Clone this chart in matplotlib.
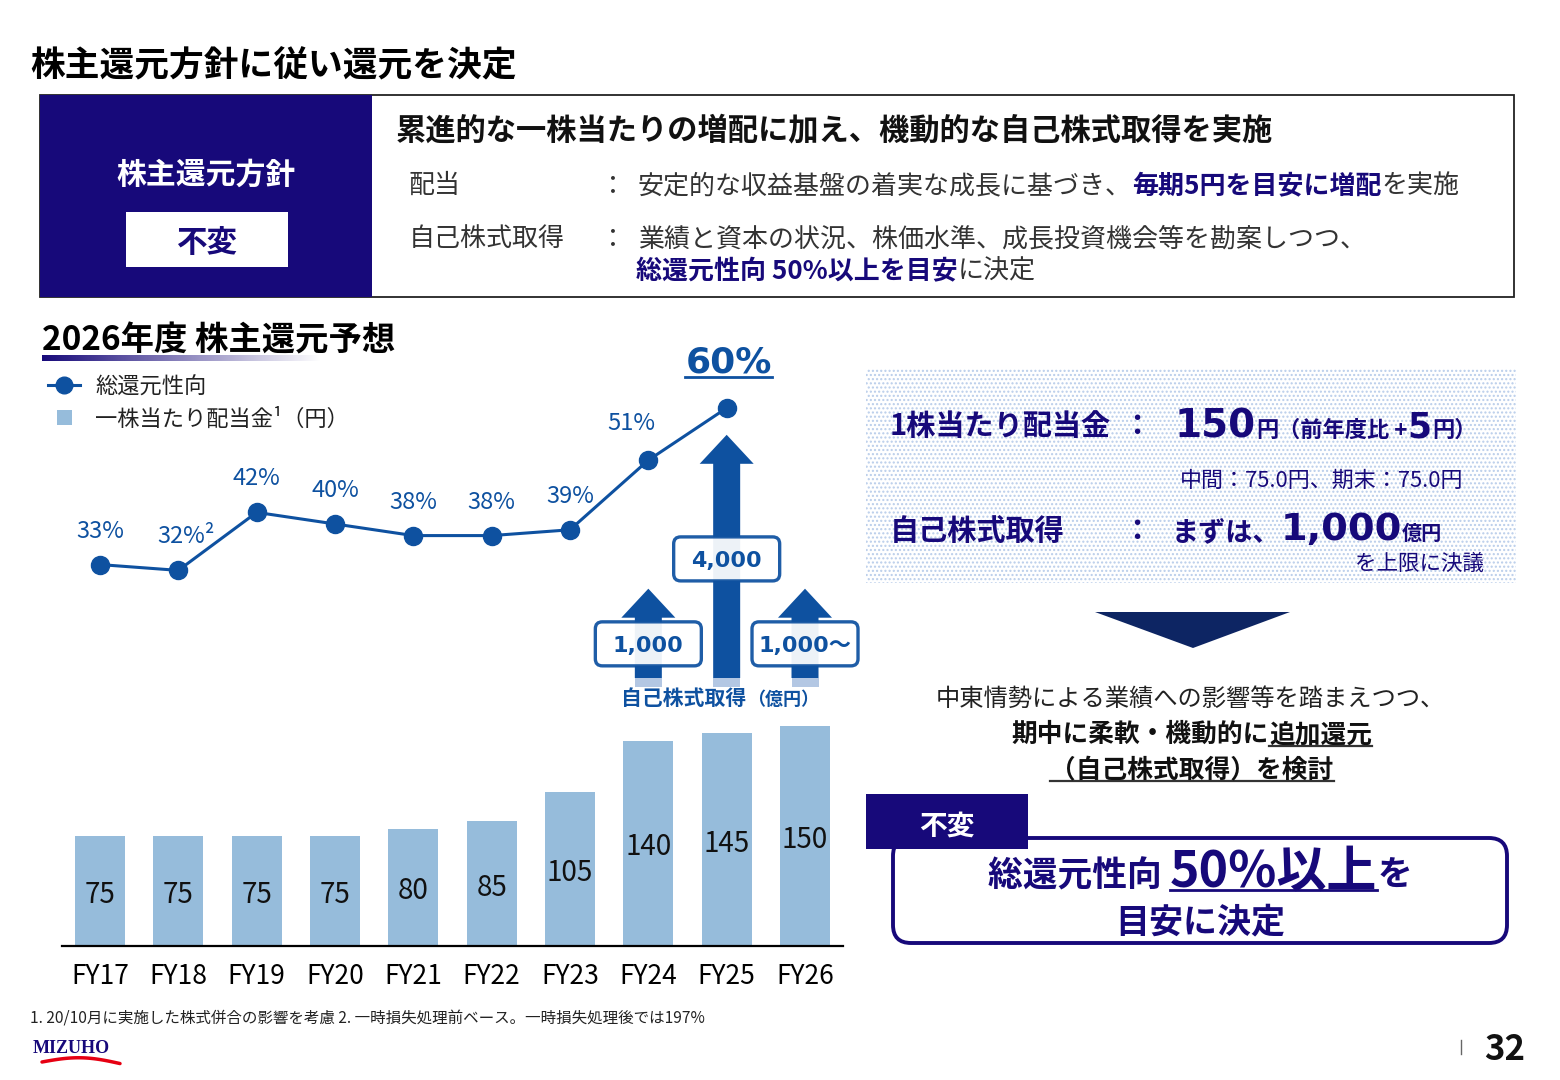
import numpy as np
import matplotlib.pyplot as plt
from matplotlib.patches import Rectangle, FancyBboxPatch, Polygon
from matplotlib.colors import to_rgb

plt.rcParams['font.family'] = ['Noto Sans CJK JP', 'DejaVu Sans']

# Data
years = ['FY17', 'FY18', 'FY19', 'FY20', 'FY21', 'FY22', 'FY23', 'FY24', 'FY25', 'FY26']
dividend = [75, 75, 75, 75, 80, 85, 105, 140, 145, 150]
payout_years = ['FY17', 'FY18', 'FY19', 'FY20', 'FY21', 'FY22', 'FY23', 'FY24', 'FY25']
payout = [33, 32, 42, 40, 38, 38, 39, 51, 60]
payout_labels = ['33%', '32%²', '42%', '40%', '38%', '38%', '39%', '51%', '60%']
buyback_years = ['FY24', 'FY25', 'FY26']
buyback = [1000, 4000, 1000]
buyback_labels = ['1,000', '4,000', '1,000～']

NAVY = '#17097a'
BLUE = '#0e51a0'
BAR = '#96bcdb'
DARK = '#333333'

fig = plt.figure(figsize=(15.6, 10.8), dpi=100)
fig.patch.set_facecolor('white')

# Bar chart (dividend per share)
ax = fig.add_axes([62 / 1560, 134 / 1080, 781 / 1560, 606 / 1080])
x = np.arange(len(years))
ax.bar(x, dividend, width=0.64, color=BAR, zorder=2)
ax.set_xlim(-0.485, 9.485)
ax.set_ylim(0, 606 / 1.467)
for s in ['top', 'right', 'left']:
    ax.spines[s].set_visible(False)
ax.spines['bottom'].set_linewidth(1.6)
ax.set_yticks([])
ax.set_xticks(x, years)
ax.tick_params(axis='x', length=0, pad=12, labelsize=19)
ax.patch.set_alpha(0)
for xi, v in zip(x, dividend):
    ax.annotate(str(v), (xi, v / 2), xytext=(0, -4), textcoords='offset pixels',
                ha='center', va='center', fontsize=20, color='#111')

# Line chart (total payout ratio)
ax2 = ax.twinx()
ax2.set_ylim(-32.76, 71.72)
ax2.axis('off')
px = [years.index(y) for y in payout_years]
ax2.plot(px, payout, color=BLUE, lw=2.2, marker='o', ms=13, zorder=3)

# Overlay in pixel coordinates for slide decorations
ov = fig.add_axes([0, 0, 1, 1], facecolor='none')
ov.set_xlim(0, 1560)
ov.set_ylim(1080, 0)
ov.axis('off')
renderer = fig.canvas.get_renderer()


def runs(x0, y, parts, ha='left'):
    objs = [ov.text(0, y, s, va='baseline', ha='left', **kw) for s, kw in parts]
    ws = [t.get_window_extent(renderer).width for t in objs]
    total = sum(ws)
    if ha == 'center':
        x0 -= total / 2
    elif ha == 'right':
        x0 -= total
    pos = []
    for t, w in zip(objs, ws):
        t.set_x(x0)
        pos.append((x0, x0 + w))
        x0 += w
    return pos


def to_ov(axis, xv, yv):
    dx, dy = axis.transData.transform((xv, yv))
    return dx, 1080 - dy


# payout labels
for i, (xi, v, lab) in enumerate(zip(px, payout, payout_labels)):
    lx, ly = to_ov(ax2, xi, v)
    if i == len(payout) - 1:
        p = runs(lx + 2, ly - 35, [(lab, dict(fontsize=26, weight='bold', color=BLUE, family='DejaVu Sans'))], ha='center')
        ov.plot([p[0][0], p[0][1]], [ly - 31, ly - 31], color=BLUE, lw=2)
    elif i == len(payout) - 2:
        ov.text(lx - 17, ly - 30, lab, fontsize=17, color=BLUE, ha='center', va='baseline')
    else:
        ov.text(lx + (8 if '²' in lab else 0), ly - 27, lab, fontsize=17, color=BLUE, ha='center', va='baseline')

# buyback arrows
for yr, v, lab in zip(buyback_years, buyback, buyback_labels):
    cx, _ = to_ov(ax, years.index(yr), 0)
    base = 687
    top = base - (47 + v * 0.0513)
    hb = top + 29
    ov.add_patch(Polygon([(cx - 27, hb), (cx, top), (cx + 27, hb), (cx + 13.5, hb), (cx + 13.5, base - 9),
                          (cx - 13.5, base - 9), (cx - 13.5, hb)], closed=True, fc=BLUE, ec='none'))
    ov.add_patch(Rectangle((cx - 13.5, base - 9), 27, 9, fc='#b3c7e3', ec='none'))
    bc = (top + base) / 2 + (6 if v < 2000 else -2)
    ov.add_patch(FancyBboxPatch((cx - 53, bc - 22), 106, 44, boxstyle='round,pad=0,rounding_size=7',
                                fc='white', ec=BLUE, lw=2.4, alpha=0.93))
    ov.text(cx, bc + 8, lab, fontsize=16, weight='bold', color=BLUE, ha='center', va='baseline',
            family=['DejaVu Sans', 'Noto Sans CJK JP'])
runs(720, 705, [('自己株式取得', dict(fontsize=15, weight='bold', color=BLUE)),
                ('（億円）', dict(fontsize=13, weight='bold', color=BLUE))], ha='center')

# Title
ov.text(30, 76, '株主還元方針に従い還元を決定', fontsize=25, weight='bold', color='black', va='baseline')

# Policy box
ov.add_patch(Rectangle((40, 95), 1474, 202, fc='white', ec='#222', lw=1.3))
ov.add_patch(Rectangle((40, 95), 332, 202, fc=NAVY, ec='none'))
ov.add_patch(Rectangle((126, 212), 162, 55, fc='white', ec='none'))
ov.text(206, 184, '株主還元方針', color='white', fontsize=21.5, weight='bold', ha='center', va='baseline')
ov.text(207, 252, '不変', color=NAVY, fontsize=22, weight='bold', ha='center', va='baseline')
ov.text(396, 139, '累進的な一株当たりの増配に加え、機動的な自己株式取得を実施', fontsize=21.8, weight='bold',
        color='#111', va='baseline')
reg = dict(fontsize=18.7, color=DARK)
bold_navy = dict(fontsize=18.7, color=NAVY, weight='bold')
ov.text(409, 193, '配当', va='baseline', **reg)
ov.text(600, 193, '：', va='baseline', **reg)
runs(638, 193, [('安定的な収益基盤の着実な成長に基づき、', reg), ('毎期5円を目安に増配', bold_navy), ('を実施', reg)])
ov.text(409, 246, '自己株式取得', va='baseline', **reg)
ov.text(600, 246, '：', va='baseline', **reg)
ov.text(638, 246, '業績と資本の状況、株価水準、成長投資機会等を勘案しつつ、', va='baseline', **reg)
runs(636, 279, [('総還元性向 50%以上を目安', bold_navy), ('に決定', reg)])

# Chart heading
ov.text(42, 350, '2026年度 株主還元予想', fontsize=24, weight='bold', color='black', va='baseline')
grad = np.zeros((1, 256, 4))
grad[..., :3] = to_rgb(NAVY)
grad[..., 3] = np.linspace(1, 0, 256)
ov.imshow(grad, extent=(42, 322, 361, 355), aspect='auto', zorder=1)

# Legend
ov.plot([48, 80], [385, 385], color=BLUE, lw=2.2)
ov.plot([64], [385], 'o', color=BLUE, ms=12)
ov.add_patch(Rectangle((57, 410), 15, 15, fc=BAR, ec='none'))
ov.text(95, 394, '総還元性向', fontsize=16, color='#222', va='baseline')
ov.text(95, 426, '一株当たり配当金¹（円）', fontsize=16, color='#222', va='baseline')

# Right info panel
ov.add_patch(Rectangle((866, 368), 650, 215, fc='white', ec='#b9cdea', lw=0, hatch='....'))
nb = dict(color=NAVY, weight='bold')
ov.text(890, 435, '1株当たり配当金', fontsize=21, va='baseline', **nb)
ov.text(1122, 435, '：', fontsize=21, va='baseline', **nb)
runs(1175, 437, [('150', dict(fontsize=28, family='DejaVu Sans', **nb)), ('円', dict(fontsize=16, **nb)),
                 ('（前年度比 +', dict(fontsize=16, **nb)), ('5', dict(fontsize=25, family='DejaVu Sans', **nb)),
                 ('円）', dict(fontsize=16, **nb))])
ov.text(1180, 487, '中間：75.0円、期末：75.0円', fontsize=15.8, color=NAVY, va='baseline')
ov.text(890, 540, '自己株式取得', fontsize=21, va='baseline', **nb)
ov.text(1122, 540, '：', fontsize=21, va='baseline', **nb)
runs(1172, 540, [('まずは、', dict(fontsize=19.5, **nb)), ('1,000', dict(fontsize=27.5, family='DejaVu Sans', **nb)),
                 ('億円', dict(fontsize=14.5, **nb))])
ov.text(1484, 570, 'を上限に決議', fontsize=15.5, color=NAVY, ha='right', va='baseline')

ov.add_patch(Polygon([(1095, 612), (1290, 612), (1193, 648)], closed=True, fc='#0d2563', ec='none'))

ov.text(1190, 706, '中東情勢による業績への影響等を踏まえつつ、', fontsize=17.5, color='#222', ha='center', va='baseline')
bb = dict(fontsize=18.5, weight='bold', color='#111')
p = runs(1192, 742, [('期中に柔軟・機動的に', bb), ('追加還元', bb)], ha='center')
ov.plot([p[1][0], p[1][1]], [746, 746], color='#333', lw=1.6)
p = runs(1192, 777, [('（自己株式取得）を検討', bb)], ha='center')
ov.plot([p[0][0], p[0][1]], [781, 781], color='#333', lw=1.6)

# Unchanged policy box
ov.add_patch(FancyBboxPatch((893, 838), 614, 105, boxstyle='round,pad=0,rounding_size=18',
                            fc='white', ec=NAVY, lw=2.8))
ov.add_patch(Rectangle((866, 794), 162, 55, fc=NAVY, ec='none', zorder=3))
ov.text(947, 835, '不変', fontsize=20, weight='bold', color='white', ha='center', va='baseline', zorder=4)
p = runs(1200, 886, [('総還元性向 ', dict(fontsize=25, **nb)), ('50%以上', dict(fontsize=36, **nb)),
                     ('を', dict(fontsize=25, **nb))], ha='center')
ov.plot([p[1][0], p[1][1]], [890, 890], color=NAVY, lw=2)
ov.text(1200, 932, '目安に決定', fontsize=24.5, ha='center', va='baseline', **nb)

# Footer
ov.text(30, 1023, '1. 20/10月に実施した株式併合の影響を考慮 2. 一時損失処理前ベース。一時損失処理後では197%',
        fontsize=11.2, color='#222', va='baseline')
ov.text(33, 1053, 'MIZUHO', fontsize=13, weight='bold', color=NAVY, family='Liberation Serif', va='baseline')
sx = np.linspace(42, 120, 40)
ov.plot(sx, 1062 - 5 * np.sin((sx - 42) / 78 * np.pi) + (sx - 42) * 0.02, color='#e60012', lw=2.5,
        solid_capstyle='round')
ov.plot([1461, 1461], [1040, 1054], color='#666', lw=1)
ov.text(1525, 1060, '32', fontsize=25, weight='bold', color='#111', ha='right', va='baseline')

ov.set_xlim(0, 1560)
ov.set_ylim(1080, 0)

fig.savefig('out.png', dpi=100, facecolor='white')
